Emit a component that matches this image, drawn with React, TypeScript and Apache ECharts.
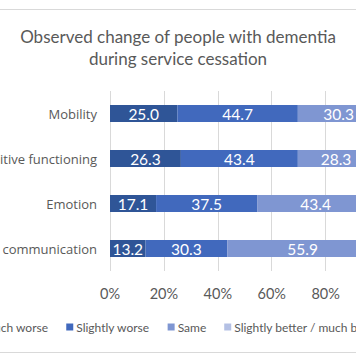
import React, { useEffect, useRef } from "react";
import * as echarts from "echarts";

const categories = ["Mobility", "Cognitive functioning", "Emotion", "Verbal communication"];
const seriesNames = ["Much worse", "Slightly worse", "Same", "Slightly better / much better"];
const muchWorse = [25.0, 26.3, 17.1, 13.2];
const slightlyWorse = [44.7, 43.4, 37.5, 30.3];
const same = [30.3, 28.3, 43.4, 55.9];
const better = [0, 2.0, 2.0, 0.6];
const xTicks = [0, 20, 40, 60, 80, 100];

const colors = ["#2f5597", "#4169bd", "#7f96d2", "#b4c0e4"];
const FONT = "Lato";
const OFF = 80;
const W = 356 + 2 * OFF;

export default function App() {
  const ref = useRef<HTMLDivElement>(null);
  useEffect(() => {
    if (!ref.current) return;
    const chart = echarts.init(ref.current, null, { renderer: "svg" });
    const values = [muchWorse, slightlyWorse, same, better];
    chart.setOption({
      animation: false,
      textStyle: { fontFamily: FONT },
      title: {
        text: "Observed change of people with dementia\nduring service cessation",
        left: "center",
        top: 20,
        textStyle: { fontFamily: FONT, fontSize: 17, fontWeight: "normal", color: "#595959", lineHeight: 22 },
      },
      graphic: [
        {
          type: "rect",
          shape: { x: 0.5, y: 9.5, width: W - 1, height: 343 },
          style: { fill: "none", stroke: "#d9d9d9", lineWidth: 1 },
          silent: true,
        },
      ],
      legend: {
        data: seriesNames,
        left: "center",
        top: 316,
        width: W,
        itemWidth: 7,
        itemHeight: 7,
        itemGap: 18,
        icon: "rect",
        textStyle: { fontFamily: FONT, fontSize: 12, color: "#595959", padding: [0, 0, 0, -2] },
      },
      grid: { left: 110 + OFF, right: W - (110 + OFF) - 269.5, top: 91, bottom: 93, containLabel: false },
      xAxis: {
        type: "value",
        min: xTicks[0],
        max: xTicks[xTicks.length - 1],
        interval: 20,
        axisLine: { show: false },
        axisTick: { show: false },
        splitLine: { lineStyle: { color: "#d9d9d9" } },
        axisLabel: {
          formatter: "{value}%",
          fontFamily: FONT,
          fontSize: 14.5,
          color: "#595959",
          margin: 15,
          showMaxLabel: false,
        },
      },
      yAxis: {
        type: "category",
        data: categories,
        inverse: true,
        axisLine: { show: false },
        axisTick: { show: false },
        axisLabel: { fontFamily: "Open Sans", fontSize: 13, color: "#595959", margin: 13 },
      },
      series: seriesNames.map((name, i) => ({
        name,
        type: "bar",
        stack: "total",
        barWidth: 17,
        itemStyle: { color: colors[i] },
        label: {
          show: true,
          position: "inside",
          color: "#ffffff",
          fontFamily: FONT,
          fontSize: 15.5,
          formatter: (p: any) => (p.value > 0 ? Number(p.value).toFixed(1) : ""),
        },
        data: values[i],
      })),
    });
    return () => chart.dispose();
  }, []);
  return (
    <div style={{ position: "fixed", left: 0, top: 0, width: 356, height: 364, overflow: "hidden", background: "#fff" }}>
      <div ref={ref} style={{ position: "absolute", left: -OFF, top: 0, width: W, height: 364 }} />
    </div>
  );
}
